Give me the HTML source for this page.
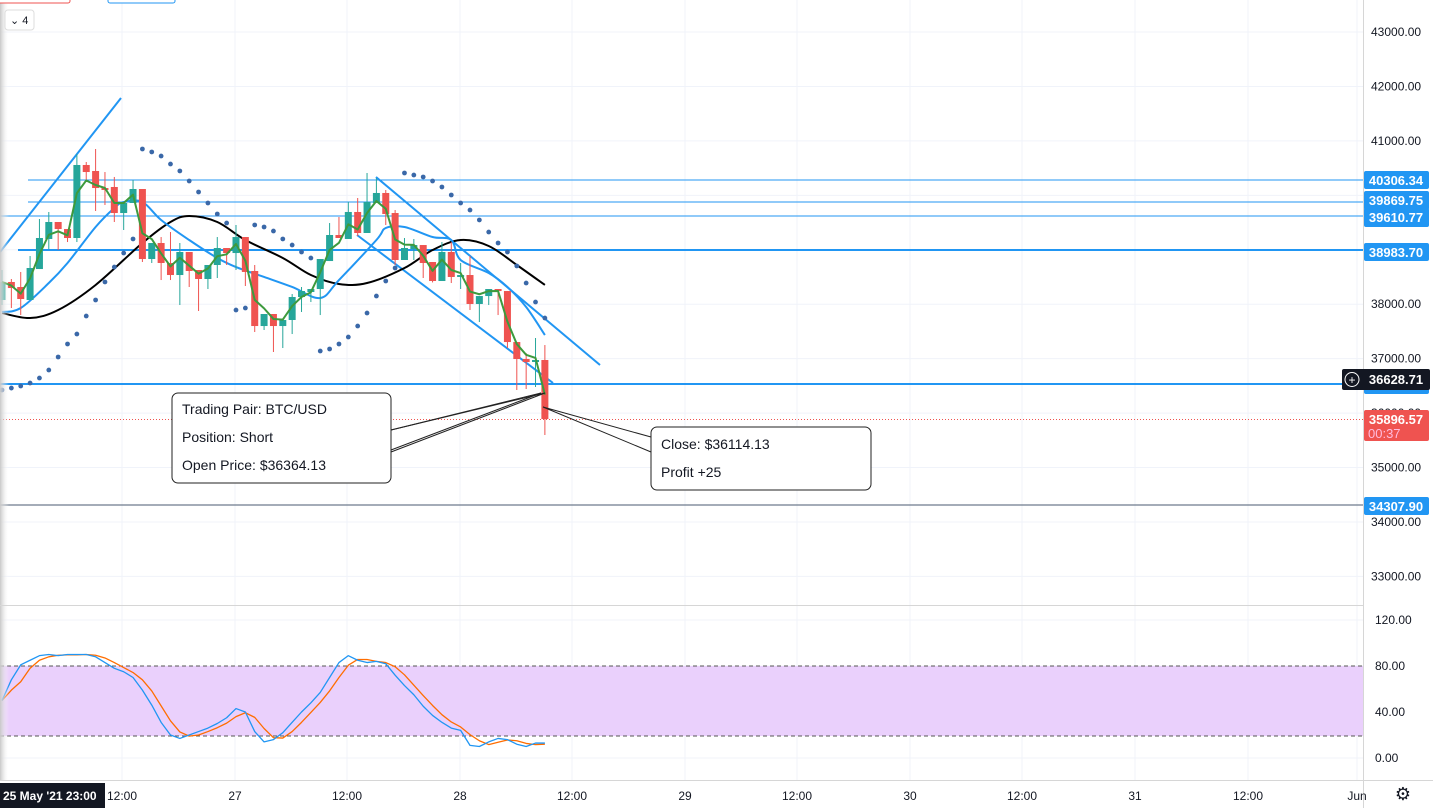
<!DOCTYPE html>
<html><head><meta charset="utf-8"><style>
body{margin:0;background:#fff;overflow:hidden}
svg{display:block;font-family:"Liberation Sans",sans-serif}
</style></head><body>
<svg id="c" width="1433" height="808" viewBox="0 0 1433 808">
<defs><linearGradient id="lg" x1="0" x2="1"><stop offset="0" stop-color="#c8c8c8"/><stop offset="1" stop-color="#fff" stop-opacity="0"/></linearGradient></defs>
<g id="grid"></g>
<rect x="0" y="666" width="1363" height="70" fill="#ead0fc"/>
<line x1="0" y1="666" x2="1363" y2="666" stroke="#555" stroke-dasharray="4,3"/>
<line x1="0" y1="736" x2="1363" y2="736" stroke="#555" stroke-dasharray="4,3"/>
<g id="hlines">
<line x1="28" y1="180" x2="1363" y2="180" stroke="#2196f3" stroke-width="1"/>
<line x1="28" y1="202" x2="1363" y2="202" stroke="#2196f3" stroke-width="1"/>
<line x1="0" y1="216" x2="1363" y2="216" stroke="#2196f3" stroke-width="1"/>
<line x1="18" y1="250" x2="1363" y2="250" stroke="#2196f3" stroke-width="2"/>
<line x1="0" y1="384" x2="1363" y2="384" stroke="#2196f3" stroke-width="2"/>
<line x1="0" y1="505" x2="1363" y2="505" stroke="#4a5a70" stroke-width="1"/>
<line x1="0" y1="419.5" x2="1363" y2="419.5" stroke="#ef5350" stroke-width="1" stroke-dasharray="1,2"/>
</g>
<g id="trend">
<line x1="0" y1="252" x2="121" y2="98" stroke="#2196f3" stroke-width="2"/>
<line x1="376" y1="177" x2="600" y2="365" stroke="#2196f3" stroke-width="2"/>
<line x1="357" y1="235" x2="553" y2="383" stroke="#2196f3" stroke-width="2"/>
</g>
<g id="ind"></g>
<g id="candles"></g>
<g id="stoch"></g>
<g>
<path d="M391,430 L545,393 L391,452" fill="none" stroke="#222" stroke-width="1"/>
<path d="M391,430 L541,393 L391,450" fill="none" stroke="#222" stroke-width="1"/>
<rect x="172" y="393" width="219" height="90" rx="6" fill="#fff" stroke="#222"/>
<text x="182" y="414" font-size="14" fill="#131722">Trading Pair: BTC/USD</text>
<text x="182" y="442" font-size="14" fill="#131722">Position: Short</text>
<text x="182" y="470" font-size="14" fill="#131722">Open Price: $36364.13</text>
</g>
<g>
<path d="M651,437 L543,407 L651,452" fill="none" stroke="#222" stroke-width="1"/>
<rect x="651" y="427" width="220" height="63" rx="6" fill="#fff" stroke="#222"/>
<text x="661" y="449" font-size="14" fill="#131722">Close: $36114.13</text>
<text x="661" y="477" font-size="14" fill="#131722">Profit +25</text>
</g>
<rect x="0" y="0" width="9" height="780" fill="url(#lg)"/>
<rect x="-2" y="-6" width="72" height="9" rx="2" fill="#fff" stroke="#ef5350"/>
<rect x="108" y="-6" width="67" height="9" rx="2" fill="#fff" stroke="#2196f3"/>
<rect x="5" y="10" width="29" height="20" rx="3" fill="#fff" stroke="#ddd"/>
<text x="10" y="24" font-size="11" fill="#131722">⌄ 4</text>
<line x1="1363.5" y1="0" x2="1363.5" y2="808" stroke="#d6d6d6"/>
<line x1="0" y1="605.5" x2="1363" y2="605.5" stroke="#d6d6d6"/>
<line x1="0" y1="780.5" x2="1433" y2="780.5" stroke="#d6d6d6"/>
<g id="axis"></g>
<g id="badges" font-size="13" font-weight="bold">
<rect x="1364" y="171" width="65" height="18" rx="2" fill="#2196f3"/><text x="1396" y="185" fill="#fff" text-anchor="middle">40306.34</text>
<rect x="1364" y="191" width="65" height="19" rx="2" fill="#2196f3"/><text x="1396" y="205" fill="#fff" text-anchor="middle">39869.75</text>
<rect x="1364" y="208" width="65" height="19" rx="2" fill="#2196f3"/><text x="1396" y="222" fill="#fff" text-anchor="middle">39610.77</text>
<rect x="1364" y="243" width="65" height="18" rx="2" fill="#2196f3"/><text x="1396" y="257" fill="#fff" text-anchor="middle">38983.70</text>
<rect x="1364" y="377" width="65" height="17" rx="2" fill="#2196f3"/>
<rect x="1342" y="369" width="88" height="21" rx="2" fill="#131722"/><circle cx="1352" cy="379.5" r="7" fill="none" stroke="#fff" stroke-width="1"/><text x="1352" y="384" font-size="12" font-weight="normal" fill="#fff" text-anchor="middle">+</text>
<text x="1396" y="384" fill="#fff" text-anchor="middle">36628.71</text>
<rect x="1364" y="410" width="65" height="31" rx="2" fill="#ef5350"/><text x="1396" y="424" fill="#fff" text-anchor="middle">35896.57</text><text x="1368" y="438" fill="#fbd" font-weight="normal">00:37</text>
<rect x="1364" y="497" width="65" height="18" rx="2" fill="#2196f3"/><text x="1396" y="511" fill="#fff" text-anchor="middle">34307.90</text>
</g>
<g id="time"></g>
<rect x="0" y="783" width="105" height="25" fill="#131722"/>
<text x="3" y="800" font-size="12" fill="#fff" font-weight="bold">25 May '21  23:00</text>
<text x="1403" y="800" font-size="18" fill="#131722" text-anchor="middle">⚙</text>
</svg>
<script>
const opens=[38077,38408,38316,38077,38646,39198,39510,39381,39216,40557,40447,40134,40153,39675,39859,40116,38830,39124,38757,38536,38959,38628,38463,38720,39032,38940,39234,38610,37599,37820,37599,37710,38132,38224,38279,38793,39271,39198,39694,39308,39859,40043,39675,38812,39014,39087,38775,38426,38959,38500,38536,38004,38150,38279,38242,37305,36993,36938,36975];
const highs=[38628,38463,38592,38885,39565,39694,39510,39381,40759,40612,40851,40428,40337,39859,40281,40116,39124,39234,39326,39124,38959,38628,38720,39234,39032,39455,39234,38720,37820,37820,37710,38187,38316,38279,38830,39491,39602,39877,39951,40410,40318,40098,39730,39216,39198,39087,38775,39142,39142,38757,38885,38150,38279,38279,38242,37305,37103,37379,37250];
const lows=[37985,37930,37801,38077,38646,39014,38995,39142,39142,40281,39712,39822,39510,39363,39859,38775,38757,38444,38444,37985,38316,37875,38279,38481,38720,38628,38334,37489,37526,37122,37195,37452,37857,38040,37801,38793,39216,39198,39253,39308,39859,39455,38720,38812,38812,38481,38400,38426,38389,38279,37893,37673,37985,37801,37195,36424,36442,36479,35597];
const closes=[38408,38297,38095,38665,39216,39510,39381,39216,40557,40428,40134,40098,39675,39859,40116,38830,39124,38757,38536,38959,38610,38463,38720,39032,38940,39234,38592,37599,37820,37599,37710,38132,38242,38279,38830,39271,39216,39694,39308,39877,40043,39657,38812,39032,39087,38757,38426,38959,38500,38536,38004,38150,38279,38242,37305,36993,36938,36975,35891];
const blackIdx=[0,3,6,10,15,18,20,23,26,30,33,36,39,43,46,49,52,55,58];
const blackVal=[37838,37746,37893,38353,39124,39510,39620,39510,39179,38849,38536,38371,38389,38665,38995,39179,39069,38720,38353];
const blueIdx=[0,2,5,7,10,12,13,15,17,20,23,25,28,31,34,36,40,41,43,46,48,49,52,54,56,58];
const blueVal=[37856,37930,38389,38757,39418,39767,39877,39877,39547,39179,38849,38683,38500,38316,38114,38444,39179,39400,39418,39234,39179,38812,38573,38316,37948,37434];
const sarIdx=[0,1,2,3,4,5,6,7,8,9,10,11,12,13,14,15,16,17,18,19,20,21,22,23,24,25,26,27,28,29,30,31,32,33,34,35,36,37,38,39,40,41,42,43,44,45,46,47,48,49,50,51,52,53,54,55,56,57,58];
const sarVal=[36424,36460,36497,36552,36644,36791,37030,37269,37452,37783,38077,38408,38683,38940,39198,40851,40796,40722,40575,40447,40263,40061,39859,39657,39491,37893,37930,39455,39418,39344,39198,39087,38959,38848,37140,37177,37269,37397,37599,37838,38150,38426,38665,40410,40373,40337,40263,40153,40006,39859,39730,39547,39326,39124,38959,38702,38389,38040,37746];
const stochK=[50,68,81,85,89,90,89,90,90,90,88,83,78,75,70,59,46,31,20,17,20,23,26,30,35,43,40,23,14,16,22,31,40,48,57,70,83,89,85,83,84,82,72,63,55,45,37,31,26,24,11,10,14,17,16,12,10,13,13];
const priceTicks=[43000,42000,41000,40000,39000,38000,37000,36000,35000,34000,33000];
const stochTicks=[120,80,40,0];
const timeLabels=["12:00","27","12:00","28","12:00","29","12:00","30","12:00","31","12:00","Jun"];
const timePos=[122,235,347,460,572,685,797,910,1022,1135,1248,1357];

const NS="http://www.w3.org/2000/svg";
const X=i=>2+i*9.36;
const Y=p=>32+(43000-p)*0.05444;
const YS=v=>758-v*1.15;
function mk(tag,attrs,parent){const e=document.createElementNS(NS,tag);for(const k in attrs)e.setAttribute(k,attrs[k]);parent.appendChild(e);return e;}
const grid=document.getElementById('grid'),axis=document.getElementById('axis'),time=document.getElementById('time');
priceTicks.forEach(p=>{
  const l=mk('line',{x1:0,x2:1363,y1:Y(p),y2:Y(p),stroke:'#f0f3fa'},grid);
  
  
  const t=mk('text',{x:1371,y:Y(p)+4,'font-size':12,fill:'#131722'},axis);t.textContent=p.toFixed(2);
  
  
});
stochTicks.forEach(v=>{
  const l=mk('line',{x1:0,x2:1363,y1:YS(v),y2:YS(v),stroke:'#f0f3fa'},grid);
  
  
  const t=mk('text',{x:1375,y:YS(v)+4,'font-size':12,fill:'#131722'},axis);t.textContent=v.toFixed(2);
  
  
});
timeLabels.forEach((s,i)=>{
  const l=mk('line',{x1:timePos[i],x2:timePos[i],y1:0,y2:780,stroke:'#f0f3fa'},grid);
  
  
  const t=mk('text',{x:timePos[i],y:800,'font-size':12,fill:'#131722','text-anchor':'middle'},time);t.textContent=s;
  
  
});
const ind=document.getElementById('ind');
function poly(idx,vals,fy,color,w,name,parent){
  const pts=idx.map((i,k)=>X(i)+','+fy(vals[k])).join(' ');
  const e=mk('polyline',{points:pts,fill:'none',stroke:color,'stroke-width':w,'stroke-linejoin':'round'},parent);
  
  
}
function smooth(idx,vals,fy,color,w,name,parent){
  const P=idx.map((i,k)=>[X(i),fy(vals[k])]);
  let d='M'+P[0][0]+','+P[0][1];
  for(let k=0;k<P.length-1;k++){
    const p0=P[Math.max(0,k-1)],p1=P[k],p2=P[k+1],p3=P[Math.min(P.length-1,k+2)];
    d+=' C'+(p1[0]+(p2[0]-p0[0])/6)+','+(p1[1]+(p2[1]-p0[1])/6)+' '+(p2[0]-(p3[0]-p1[0])/6)+','+(p2[1]-(p3[1]-p1[1])/6)+' '+p2[0]+','+p2[1];
  }
  const e=mk('path',{d:d,fill:'none',stroke:color,'stroke-width':w},parent);
  
  
}
smooth(blackIdx,blackVal,Y,'#000',2,'black-ma-line',ind);
smooth(blueIdx,blueVal,Y,'#2196f3',2,'blue-ma-line',ind);
sarIdx.forEach((i,k)=>{
  const d=mk('circle',{cx:X(i),cy:Y(sarVal[k]),r:2.4,fill:'#3a68a8'},ind);
  
  
});
const cg=document.getElementById('candles');
closes.forEach((c,i)=>{
  const o=opens[i],col=c>=o?'#26a69a':'#ef5350',x=X(i);
  const w=mk('line',{x1:x,x2:x,y1:Y(highs[i]),y2:Y(lows[i]),stroke:col,'stroke-width':1},cg);
  
  
  const top=Y(Math.max(o,c)),h=Math.max(1,Y(Math.min(o,c))-top);
  const b=mk('rect',{x:x-3.5,y:top,width:7,height:h,fill:col},cg);
  
  
});
const greenVals=[];let e=closes[0];closes.forEach(c=>{e=e*0.4+c*0.6;greenVals.push(e);});
poly(closes.map((_,i)=>i),greenVals,Y,'#3d9a3d',2,'green-ema-line',cg);
const sg=document.getElementById('stoch');
const stochD=stochK.map((v,i)=>{const a=stochK.slice(Math.max(0,i-2),i+1);return a.reduce((s,x)=>s+x,0)/a.length;});
poly(stochK.map((_,i)=>i),stochD,YS,'#ff6d00',1.3,'stoch-d-line',sg);
poly(stochK.map((_,i)=>i),stochK,YS,'#2196f3',1.3,'stoch-k-line',sg);
</script>
</body></html>
